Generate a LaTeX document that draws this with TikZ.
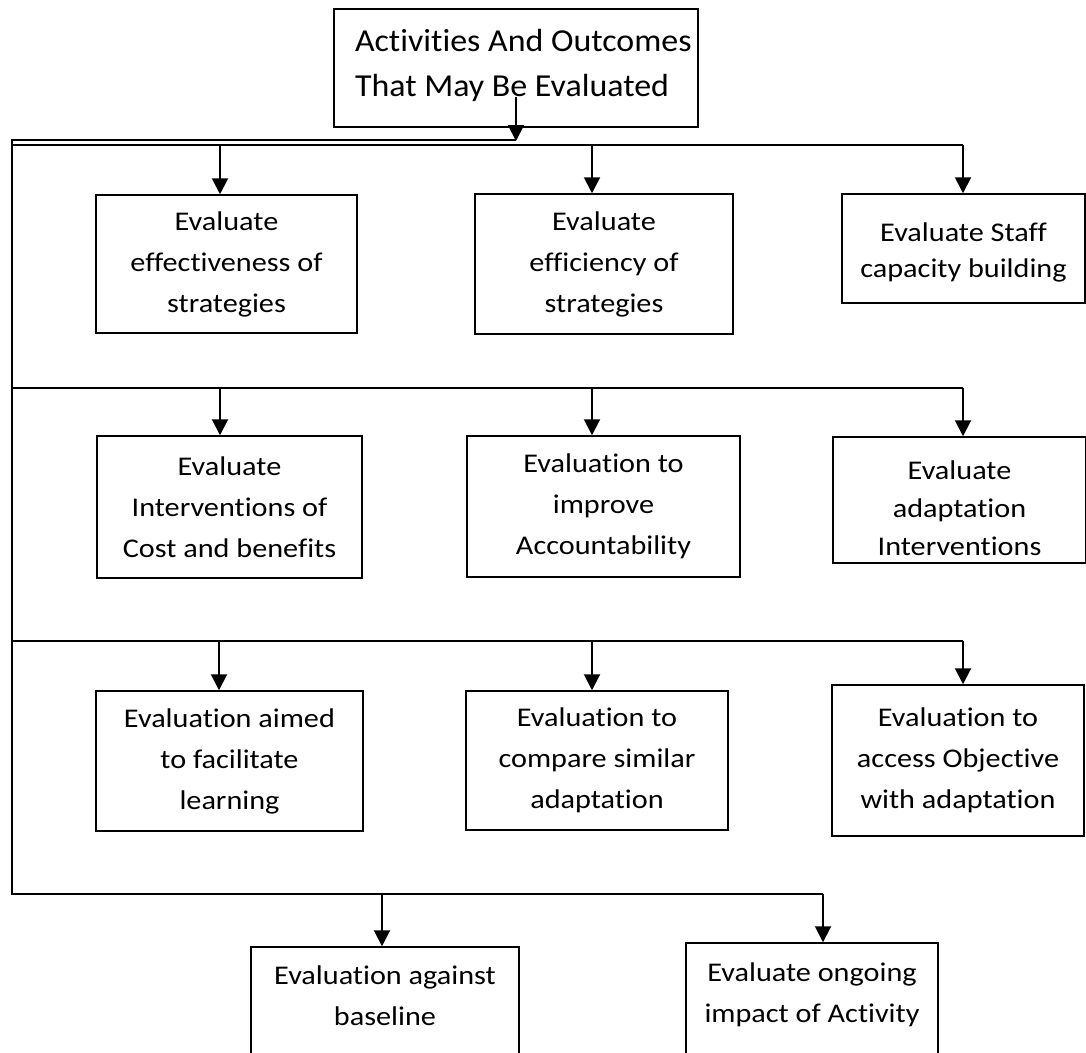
\documentclass[tikz,border=0pt]{standalone}
\usepackage{fontspec}
\setmainfont{Carlito}[Ligatures=NoCommon]
\newfontfamily\boxfont{Carlito}[Ligatures=NoCommon, FakeStretch=1.12]
\newfontfamily\topfont{Carlito}[Ligatures=NoCommon, FakeStretch=1.06]
\usetikzlibrary{arrows.meta}
\begin{document}
\begin{tikzpicture}[x=1pt,y=-1pt,
 box/.style={draw, line width=1.5pt, align=center, inner sep=0pt, font=\boxfont\fontsize{27}{41}\selectfont},
 conn/.style={line width=1.6pt},
 arr/.style={line width=2pt, -{Triangle[width=16pt,length=16pt]}}]
\useasboundingbox (0,0) rectangle (1086,1052);
\clip (0,0) rectangle (1086,1052);
\fill[white] (0,0) rectangle (1086,1052);

% top box
\node[draw, line width=1.5pt, minimum width=364pt, minimum height=118pt,
      inner xsep=21pt, inner ysep=0pt, align=left, text depth=10pt, font=\topfont\fontsize{32}{45}\selectfont]
      (top) at (516,68) {\makebox[322pt][l]{Activities And Outcomes}\\\makebox[322pt][l]{That May Be Evaluated}};

% row 1
\node[box, minimum width=261pt, minimum height=138pt] (r1a) at (226.5,264) {Evaluate\\effectiveness of\\strategies};
\node[box, minimum width=258pt, minimum height=140pt] (r1b) at (604,264) {Evaluate\\efficiency of\\strategies};
\node[box, minimum width=243pt, minimum height=109pt, font=\boxfont\fontsize{27}{36}\selectfont, text height=63pt] (r1c) at (963.5,248.5) {Evaluate Staff\\capacity building};
% row 2
\node[box, minimum width=265pt, minimum height=142pt] (r2a) at (229.5,507) {Evaluate\\Interventions of\\Cost and benefits};
\node[box, minimum width=273pt, minimum height=141pt] (r2b) at (603.5,506.5) {Evaluation to\\improve\\Accountability};
\node[box, minimum width=253pt, minimum height=126pt, font=\boxfont\fontsize{27}{38}\selectfont, text height=111pt, text depth=0pt] (r2c) at (959.5,500) {Evaluate\\adaptation\\Interventions};
% row 3
\node[box, minimum width=267pt, minimum height=140pt] (r3a) at (229.5,761) {Evaluation aimed\\to facilitate\\learning};
\node[box, minimum width=262pt, minimum height=139pt] (r3b) at (597,760.5) {Evaluation to\\compare similar\\adaptation};
\node[box, minimum width=252pt, minimum height=151pt] (r3c) at (958,760.5) {Evaluation to\\access Objective\\with adaptation};
% row 4
\node[box, minimum width=268pt, minimum height=113pt, text depth=16pt] (r4a) at (385,1003.5) {Evaluation against\\baseline};
\node[box, minimum width=252pt, minimum height=117pt, text depth=17pt] (r4b) at (812,1001.5) {Evaluate ongoing\\impact of Activity};

% connector coordinates
\coordinate (J0) at (516,141);
\coordinate (L0) at (12,140);
\coordinate (L1) at (12,145);
\coordinate (R1) at (963,145);
\coordinate (a11) at (220,145);
\coordinate (a12) at (592,145);
\coordinate (L2) at (12,388);
\coordinate (R2) at (963,388);
\coordinate (a21) at (220,388);
\coordinate (a22) at (592,388);
\coordinate (L3) at (12,641);
\coordinate (R3) at (963,641);
\coordinate (a31) at (219,641);
\coordinate (a32) at (592,641);
\coordinate (L4) at (12,894);
\coordinate (R4) at (823,894);
\coordinate (a41) at (382,894);

% trunk
\draw[arr] ([yshift=31pt]top.south) -- (J0);
\draw[conn] (J0 |- L0) -- (L0) -- (L4) -- (R4);
\draw[conn] (L1) -- (R1);
\draw[conn] (L2) -- (R2);
\draw[conn] (L3) -- (R3);

% arrows
\draw[arr] (a11) -- (a11 |- r1a.north);
\draw[arr] (a12) -- (a12 |- r1b.north);
\draw[arr] (R1) -- (R1 |- r1c.north);
\draw[arr] (a21) -- (a21 |- r2a.north);
\draw[arr] (a22) -- (a22 |- r2b.north);
\draw[arr] (R2) -- (R2 |- r2c.north);
\draw[arr] (a31) -- (a31 |- r3a.north);
\draw[arr] (a32) -- (a32 |- r3b.north);
\draw[arr] (R3) -- (R3 |- r3c.north);
\draw[arr] (a41) -- (a41 |- r4a.north);
\draw[arr] (R4) -- (R4 |- r4b.north);
\end{tikzpicture}
\end{document}
